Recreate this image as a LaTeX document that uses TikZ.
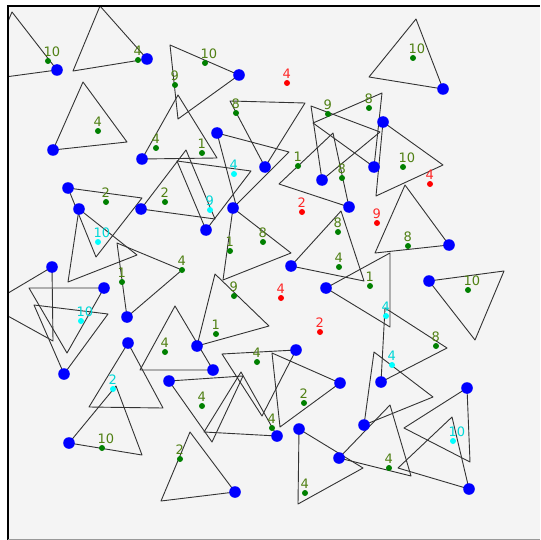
\documentclass[tikz,border=0pt]{standalone}
\usepackage{fontspec}
\setmainfont{DejaVu Sans}
\definecolor{panel}{RGB}{244,244,244}
\definecolor{agentblue}{RGB}{0,0,255}
\definecolor{gdot}{RGB}{0,128,0}
\definecolor{gtxt}{RGB}{80,128,20}
\definecolor{cdot}{RGB}{0,255,255}
\definecolor{ctxt}{RGB}{0,215,215}
\definecolor{rdot}{RGB}{255,0,0}
\definecolor{rtxt}{RGB}{255,40,40}

\begin{document}
\begin{tikzpicture}[x=1pt,y=-1pt,
  fov/.style={draw=black!80,line width=0.9pt,line join=round},
  agent/.style={fill=agentblue},
  goal/.style={anchor=south west,inner sep=0pt,font=\fontsize{13}{13}\selectfont}]
\useasboundingbox (0,0) rectangle (540,540);
\fill[white] (0,0) rectangle (540,540);
\fill[panel] (8,6) rectangle (540,540);

\begin{scope}
\clip (8,6) rectangle (540,540);
% view triangles, first corner is the agent
\foreach \ax/\ay/\bx/\by/\cx/\cy in {
  57/70/12/12/-17/80, 147/59/73/71/100/6, 53/150/83/82/127/142,
  239/75/170/45/178/119, 142/159/178/95/217/158, 265/167/230/101/305/103,
  217/133/289/152/236/205, 443/89/416/19/369/77, 374/167/313/123/382/93,
  383/122/443/165/376/196, 322/180/311/106/380/132, 349/207/333/133/279/184,
  68/188/96/257/142/198, 79/209/68/282/137/255, 141/209/215/219/186/150,
  206/230/177/161/251/171, 233/208/291/253/223/280, 291/266/341/211/364/281,
  326/288/390/253/390/327, 449/245/375/253/405/185, 429/281/504/271/475/340,
  52/267/53/341/-12/305, 104/288/29/288/67/353, 64/374/34/305/108/314,
  127/317/117/243/182/270, 128/343/89/407/163/408, 69/443/116/386/142/455,
  197/346/215/274/269/326, 213/370/175/306/140/370, 169/381/243/376/212/442,
  277/436/204/432/241/372, 235/492/190/432/161/501, 296/350/222/354/262/416,
  340/383/280/427/272/353, 299/429/298/504/363/468, 339/458/390/405/411/476,
  364/425/374/352/433/397, 381/382/385/308/447/348, 467/388/470/462/404/428,
  469/489/452/417/398/468}
  \draw[fov] (\ax,\ay) -- (\bx,\by) -- (\cx,\cy) -- cycle;
\foreach \ax/\ay [count=\i] in {57/70, 147/59, 53/150, 239/75, 142/159, 265/167,
  217/133, 443/89, 374/167, 383/122, 322/180, 349/207, 68/188, 79/209, 141/209,
  206/230, 233/208, 291/266, 326/288, 449/245, 429/281, 52/267, 104/288, 64/374,
  127/317, 128/343, 69/443, 197/346, 213/370, 169/381, 277/436, 235/492, 296/350,
  340/383, 299/429, 339/458, 364/425, 381/382, 467/388, 469/489}
  \fill[agent] (\ax,\ay) circle (5.8) coordinate (a\i);

% goals
\foreach \x/\y/\n/\c [count=\i] in {
  48/61/10/g, 138/60/4/g, 205/63/10/g, 175/85/9/g, 98/131/4/g, 236/113/8/g,
  328/114/9/g, 369/108/8/g, 156/148/4/g, 202/153/1/g, 298/166/1/g, 342/178/8/g,
  403/167/10/g, 413/58/10/g, 106/202/2/g, 165/202/2/g, 263/242/8/g, 230/251/1/g,
  338/232/8/g, 339/267/4/g, 408/246/8/g, 370/286/1/g, 468/290/10/g, 182/270/4/g,
  122/282/1/g, 234/296/9/g, 216/334/1/g, 165/352/4/g, 436/346/8/g, 257/362/4/g,
  304/403/2/g, 202/406/4/g, 272/428/4/g, 389/468/4/g, 102/448/10/g, 180/459/2/g,
  305/493/4/g,
  234/174/4/c, 210/210/9/c, 98/242/10/c, 81/321/10/c, 386/316/4/c, 392/365/4/c,
  113/389/2/c, 453/441/10/c,
  287/83/4/r, 430/184/4/r, 302/212/2/r, 377/223/9/r, 281/298/4/r, 320/332/2/r}
{
  \fill[\c dot] (\x,\y) circle (3);
  \node[goal,text=\c txt] (g\i) at (\x-4.5,\y-4) {\n};
}
\end{scope}

\draw[line width=1.2pt] (8,540) -- (8,6) -- (540,6);
\draw[black!40,line width=0.6pt] (8,539.5) -- (540,539.5);
\end{tikzpicture}
\end{document}
